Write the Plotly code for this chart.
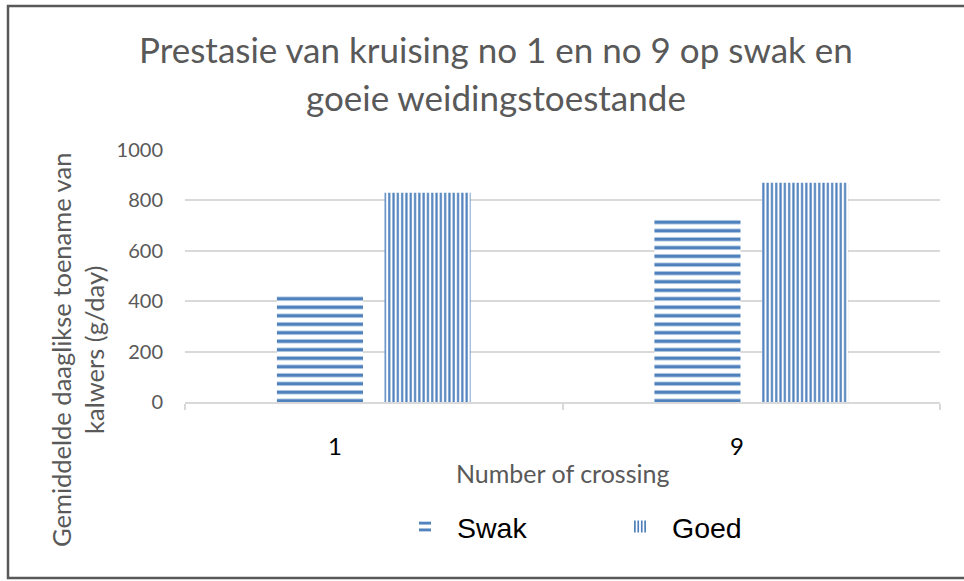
import plotly.graph_objects as go

categories = ["1", "9"]
swak = [425, 725]
goed = [830, 870]
series_names = ["Swak", "Goed"]
title_lines = ["Prestasie van kruising no 1 en no 9 op swak en", "goeie weidingstoestande"]
y_title = "Gemiddelde daaglikse toename van<br>kalwers (g/day)"
x_title = "Number of crossing"
tick_label_shift = [-39, -14]

BLUE = "#4F81BD"
GRAY = "#595959"
GRID = "#D9D9D9"
FONT = "Lato"

W, H = 964, 581
L, R, T, B = 185, 24, 150, 179
PW, PH = W - L - R, H - T - B

def px(x):
    return (x - L) / PW

def py(y):
    return (H - B - y) / PH

fig = go.Figure()
fig.add_trace(go.Bar(
    x=categories, y=swak, name=series_names[0],
    marker=dict(color=BLUE, line=dict(width=0),
                pattern=dict(shape="-", fgcolor=BLUE, bgcolor="white",
                             size=8.5, solidity=0.42, fillmode="replace")),
))
fig.add_trace(go.Bar(
    x=categories, y=goed, name=series_names[1],
    marker=dict(color=BLUE, line=dict(width=0),
                pattern=dict(shape="|", fgcolor=BLUE, bgcolor="white",
                             size=4.3, solidity=0.5, fillmode="replace")),
))

annotations = []
for line, yy in zip(title_lines, [49, 97]):
    annotations.append(dict(text=line, x=px(496), y=py(yy), xref="paper", yref="paper",
                            xanchor="center", yanchor="middle", showarrow=False,
                            font=dict(family=FONT, size=35, color=GRAY)))
annotations.append(dict(text=y_title, x=px(77), y=py(350), xref="paper", yref="paper",
                        xanchor="center", yanchor="middle", showarrow=False, textangle=-90,
                        font=dict(family=FONT, size=25.5, color=GRAY)))
annotations.append(dict(text=x_title, x=0.5, y=py(473), xref="paper", yref="paper",
                        xanchor="center", yanchor="middle", showarrow=False,
                        font=dict(family=FONT, size=25, color=GRAY)))
for i, (c, s) in enumerate(zip(categories, tick_label_shift)):
    annotations.append(dict(text=c, x=i, y=py(445), xref="x", yref="paper", xshift=s,
                            xanchor="center", yanchor="middle", showarrow=False,
                            font=dict(family=FONT, size=24, color="#000000")))

fig.update_layout(
    width=W, height=H,
    margin=dict(l=L, r=R, t=T, b=B, pad=0, autoexpand=False),
    paper_bgcolor="white", plot_bgcolor="white",
    barmode="group", bargap=0.43, bargroupgap=0.2,
    showlegend=True,
    legend=dict(orientation="h", x=px(393), y=py(527), xanchor="left", yanchor="middle",
                font=dict(family="Liberation Sans", size=28.5, color="#000000"),
                itemwidth=54, entrywidth=146, entrywidthmode="pixels",
                bgcolor="rgba(0,0,0,0)"),
    xaxis=dict(type="category", range=[-0.5, 1.5], autorange=False, showline=True,
               linecolor=GRID, linewidth=1.5, automargin=False,
               ticks="outside", tickson="boundaries", ticklen=6, tickcolor=GRID,
               tickwidth=1.5, showticklabels=False, showgrid=False),
    yaxis=dict(range=[0, 1000], autorange=False, dtick=200, showgrid=True, gridcolor=GRID,
               gridwidth=1.5, automargin=False,
               zeroline=False, showline=False, ticks="",
               tickfont=dict(family=FONT, size=20, color=GRAY), ticklabelstandoff=21),
    annotations=annotations,
    shapes=[dict(type="rect", xref="paper", yref="paper",
                 x0=px(8), x1=px(1000), y0=py(578), y1=py(6),
                 line=dict(color=GRAY, width=2.5), fillcolor="rgba(0,0,0,0)", layer="above")],
)

fig.write_html("out.html", config={"displayModeBar": False},
               post_script="document.body.style.margin='0';document.body.style.overflow='hidden';")
